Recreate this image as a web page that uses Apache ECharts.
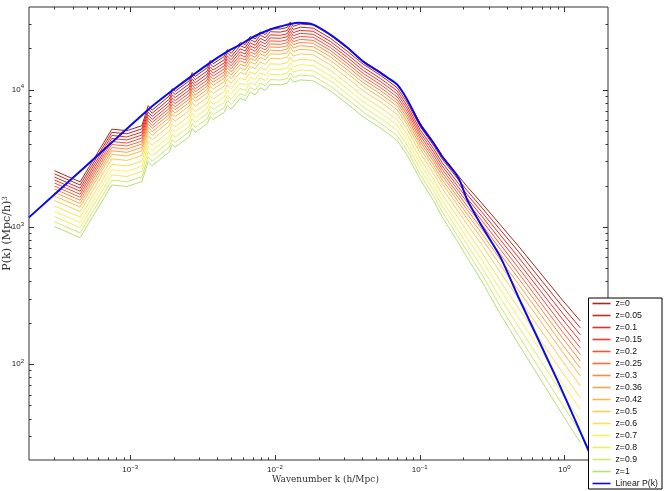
<!DOCTYPE html>
<html>
<head>
<meta charset="utf-8">
<script src="https://cdn.jsdelivr.net/npm/echarts@6/dist/echarts.min.js"></script>
<style>
html, body { margin: 0; padding: 0; background: #fff; }
#chart { width: 664px; height: 491px; }
</style>
</head>
<body>
<div id="chart"></div>
<script>
// wavenumber grid of the nonlinear spectra (h/Mpc)
var kNL = [3.00e-4, 4.51e-4, 7.47e-4, 9.49e-4, 1.205e-3, 1.331e-3, 1.419e-3, 1.860e-3, 1.951e-3, 2.046e-3,
    2.557e-3, 2.682e-3, 2.813e-3, 3.405e-3, 3.572e-3, 3.746e-3, 4.463e-3, 4.681e-3, 4.989e-3, 5.757e-3,
    6.234e-3, 6.750e-3, 7.309e-3, 7.913e-3, 8.570e-3, 9.279e-3, 0.01088, 0.01216, 0.01276, 0.01338,
    0.01496, 0.01840, 0.02411, 0.03160, 0.04076, 0.05342, 0.05971, 0.07002, 0.08210, 0.1010,
    0.1242, 0.1433, 0.1849, 0.2133, 0.2708, 0.3606, 0.4802, 0.6815, 0.9672, 1.288];

// log10 P(k), one list per redshift
var lgP_z0 = [3.409, 3.328, 3.712, 3.701, 3.737, 3.883, 3.851, 3.953, 4.007, 3.988, 4.064, 4.124, 4.096, 4.159, 4.212, 4.189, 4.241, 4.292, 4.264, 4.343, 4.328, 4.387, 4.369, 4.420, 4.401, 4.445, 4.442, 4.453, 4.493, 4.461, 4.478, 4.471, 4.398, 4.303, 4.208, 4.128, 4.091, 4.036, 3.927, 3.752, 3.620, 3.518, 3.372, 3.292, 3.168, 3.015, 2.861, 2.664, 2.467, 2.314];
var lgP_z005 = [3.386, 3.305, 3.689, 3.678, 3.714, 3.860, 3.828, 3.930, 3.984, 3.965, 4.041, 4.101, 4.073, 4.136, 4.189, 4.166, 4.218, 4.269, 4.241, 4.320, 4.305, 4.364, 4.346, 4.397, 4.378, 4.422, 4.419, 4.430, 4.470, 4.438, 4.455, 4.448, 4.375, 4.280, 4.185, 4.105, 4.068, 4.013, 3.904, 3.729, 3.596, 3.493, 3.344, 3.263, 3.136, 2.978, 2.821, 2.620, 2.420, 2.264];
var lgP_z01 = [3.363, 3.282, 3.666, 3.655, 3.691, 3.837, 3.805, 3.907, 3.961, 3.942, 4.018, 4.078, 4.050, 4.113, 4.166, 4.143, 4.195, 4.246, 4.218, 4.297, 4.282, 4.341, 4.323, 4.374, 4.355, 4.399, 4.396, 4.407, 4.447, 4.415, 4.432, 4.425, 4.352, 4.257, 4.162, 4.082, 4.045, 3.990, 3.881, 3.706, 3.572, 3.467, 3.317, 3.234, 3.104, 2.941, 2.780, 2.577, 2.373, 2.214];
var lgP_z015 = [3.341, 3.260, 3.644, 3.633, 3.669, 3.815, 3.783, 3.885, 3.939, 3.920, 3.996, 4.056, 4.028, 4.091, 4.144, 4.121, 4.173, 4.224, 4.196, 4.275, 4.260, 4.319, 4.301, 4.352, 4.333, 4.377, 4.374, 4.385, 4.425, 4.393, 4.410, 4.403, 4.330, 4.235, 4.140, 4.060, 4.023, 3.968, 3.859, 3.684, 3.549, 3.443, 3.290, 3.206, 3.073, 2.906, 2.742, 2.535, 2.328, 2.166];
var lgP_z02 = [3.319, 3.238, 3.622, 3.611, 3.647, 3.793, 3.761, 3.863, 3.917, 3.898, 3.974, 4.034, 4.006, 4.069, 4.122, 4.099, 4.151, 4.202, 4.174, 4.253, 4.238, 4.297, 4.279, 4.330, 4.311, 4.355, 4.352, 4.363, 4.403, 4.371, 4.388, 4.381, 4.308, 4.213, 4.118, 4.038, 4.001, 3.946, 3.837, 3.662, 3.525, 3.419, 3.264, 3.178, 3.042, 2.871, 2.703, 2.493, 2.282, 2.118];
var lgP_z025 = [3.297, 3.216, 3.600, 3.589, 3.625, 3.771, 3.739, 3.841, 3.895, 3.876, 3.952, 4.012, 3.984, 4.047, 4.100, 4.077, 4.129, 4.180, 4.152, 4.231, 4.216, 4.275, 4.257, 4.308, 4.289, 4.333, 4.330, 4.341, 4.381, 4.349, 4.366, 4.359, 4.286, 4.191, 4.096, 4.016, 3.979, 3.924, 3.815, 3.640, 3.502, 3.395, 3.238, 3.150, 3.011, 2.836, 2.665, 2.451, 2.237, 2.070];
var lgP_z03 = [3.275, 3.194, 3.578, 3.567, 3.603, 3.749, 3.717, 3.819, 3.873, 3.854, 3.930, 3.990, 3.962, 4.025, 4.078, 4.055, 4.107, 4.158, 4.130, 4.209, 4.194, 4.253, 4.235, 4.286, 4.267, 4.311, 4.308, 4.319, 4.359, 4.327, 4.344, 4.337, 4.264, 4.169, 4.074, 3.994, 3.957, 3.902, 3.793, 3.618, 3.479, 3.371, 3.211, 3.122, 2.980, 2.801, 2.626, 2.409, 2.192, 2.022];
var lgP_z036 = [3.251, 3.170, 3.554, 3.543, 3.579, 3.725, 3.693, 3.795, 3.849, 3.830, 3.906, 3.966, 3.938, 4.001, 4.054, 4.031, 4.083, 4.134, 4.106, 4.185, 4.170, 4.229, 4.211, 4.262, 4.243, 4.287, 4.284, 4.295, 4.335, 4.303, 4.320, 4.313, 4.240, 4.145, 4.050, 3.970, 3.933, 3.878, 3.769, 3.594, 3.454, 3.344, 3.182, 3.091, 2.947, 2.762, 2.584, 2.364, 2.143, 1.970];
var lgP_z042 = [3.225, 3.144, 3.528, 3.517, 3.553, 3.699, 3.667, 3.769, 3.823, 3.804, 3.880, 3.940, 3.912, 3.975, 4.028, 4.005, 4.057, 4.108, 4.080, 4.159, 4.144, 4.203, 4.185, 4.236, 4.217, 4.261, 4.258, 4.269, 4.309, 4.277, 4.294, 4.287, 4.214, 4.119, 4.024, 3.944, 3.907, 3.852, 3.743, 3.568, 3.427, 3.316, 3.151, 3.058, 2.910, 2.721, 2.539, 2.314, 2.090, 1.913];
var lgP_z05 = [3.192, 3.111, 3.495, 3.484, 3.520, 3.666, 3.634, 3.736, 3.790, 3.771, 3.847, 3.907, 3.879, 3.942, 3.995, 3.972, 4.024, 4.075, 4.047, 4.126, 4.111, 4.170, 4.152, 4.203, 4.184, 4.228, 4.225, 4.236, 4.276, 4.244, 4.261, 4.254, 4.181, 4.086, 3.991, 3.911, 3.874, 3.819, 3.710, 3.535, 3.392, 3.279, 3.112, 3.016, 2.864, 2.668, 2.481, 2.252, 2.022, 1.841];
var lgP_z06 = [3.152, 3.071, 3.455, 3.444, 3.480, 3.626, 3.594, 3.696, 3.750, 3.731, 3.807, 3.867, 3.839, 3.902, 3.955, 3.932, 3.984, 4.035, 4.007, 4.086, 4.071, 4.130, 4.112, 4.163, 4.144, 4.188, 4.185, 4.196, 4.236, 4.204, 4.221, 4.214, 4.141, 4.046, 3.951, 3.871, 3.834, 3.779, 3.670, 3.495, 3.350, 3.235, 3.064, 2.966, 2.808, 2.604, 2.411, 2.176, 1.940, 1.754];
var lgP_z07 = [3.113, 3.032, 3.416, 3.405, 3.441, 3.587, 3.555, 3.657, 3.711, 3.692, 3.768, 3.828, 3.800, 3.863, 3.916, 3.893, 3.945, 3.996, 3.968, 4.047, 4.032, 4.091, 4.073, 4.124, 4.105, 4.149, 4.146, 4.157, 4.197, 4.165, 4.182, 4.175, 4.102, 4.007, 3.912, 3.832, 3.795, 3.740, 3.631, 3.456, 3.309, 3.192, 3.017, 2.916, 2.754, 2.541, 2.343, 2.102, 1.860, 1.669];
var lgP_z08 = [3.075, 2.994, 3.378, 3.367, 3.403, 3.549, 3.517, 3.619, 3.673, 3.654, 3.730, 3.790, 3.762, 3.825, 3.878, 3.855, 3.907, 3.958, 3.930, 4.009, 3.994, 4.053, 4.035, 4.086, 4.067, 4.111, 4.108, 4.119, 4.159, 4.127, 4.144, 4.137, 4.064, 3.969, 3.874, 3.794, 3.757, 3.702, 3.593, 3.418, 3.269, 3.151, 2.971, 2.868, 2.700, 2.481, 2.276, 2.029, 1.782, 1.586];
var lgP_z09 = [3.037, 2.956, 3.340, 3.329, 3.365, 3.511, 3.479, 3.581, 3.635, 3.616, 3.692, 3.752, 3.724, 3.787, 3.840, 3.817, 3.869, 3.920, 3.892, 3.971, 3.956, 4.015, 3.997, 4.048, 4.029, 4.073, 4.070, 4.081, 4.121, 4.089, 4.106, 4.099, 4.026, 3.931, 3.836, 3.756, 3.719, 3.664, 3.555, 3.380, 3.229, 3.109, 2.926, 2.820, 2.647, 2.420, 2.210, 1.957, 1.704, 1.503];
var lgP_z1 = [3.002, 2.921, 3.305, 3.294, 3.330, 3.476, 3.444, 3.546, 3.600, 3.581, 3.657, 3.717, 3.689, 3.752, 3.805, 3.782, 3.834, 3.885, 3.857, 3.936, 3.921, 3.980, 3.962, 4.013, 3.994, 4.038, 4.035, 4.046, 4.086, 4.054, 4.071, 4.064, 3.991, 3.896, 3.801, 3.721, 3.684, 3.629, 3.520, 3.345, 3.193, 3.070, 2.884, 2.775, 2.598, 2.364, 2.149, 1.891, 1.633, 1.427];

var zNames = ['z=0', 'z=0.05', 'z=0.1', 'z=0.15', 'z=0.2', 'z=0.25', 'z=0.3', 'z=0.36',
    'z=0.42', 'z=0.5', 'z=0.6', 'z=0.7', 'z=0.8', 'z=0.9', 'z=1'];
var zCurves = [lgP_z0, lgP_z005, lgP_z01, lgP_z015, lgP_z02, lgP_z025, lgP_z03, lgP_z036,
    lgP_z042, lgP_z05, lgP_z06, lgP_z07, lgP_z08, lgP_z09, lgP_z1];
var zColors = ['#a52a1f', '#c8281f', '#e0302a', '#f03a30', '#f8503a', '#fb6c3c', '#fd8a40', '#fea244',
    '#ffb848', '#ffcc4c', '#ffe050', '#fff055', '#e6f060', '#cdeb6c', '#b5e077'];

// linear spectrum
var kLin = [2.0e-4, 4.51e-4, 1.331e-3, 1.951e-3, 2.682e-3, 3.572e-3, 4.681e-3, 5.757e-3, 6.750e-3, 7.913e-3,
    9.279e-3, 0.01088, 0.01449, 0.01840, 0.02411, 0.03160, 0.04076, 0.05342, 0.05971, 0.07002,
    0.08210, 0.1010, 0.1242, 0.1433, 0.1849, 0.2133, 0.2708, 0.3606, 0.4802, 0.893, 1.394, 1.770];
var lgP_lin = [3.069, 3.405, 3.854, 3.993, 4.102, 4.197, 4.277, 4.328, 4.372, 4.409,
    4.438, 4.460, 4.487, 4.474, 4.401, 4.307, 4.204, 4.124, 4.088, 4.036,
    3.927, 3.745, 3.613, 3.511, 3.358, 3.197, 3.000, 2.781, 2.489, 1.883, 1.423, 1.175];

var kMin = 2e-4, kMax = 2, pMin = 20, pMax = 4e4;

var chart = echarts.init(document.getElementById('chart'));

function toPoints(ks, lgs) {
    return ks.map(function(k, i) { return [k, Math.pow(10, lgs[i])]; });
}

function isPow10(v) {
    var e = Math.log10(v);
    return Math.abs(e - Math.round(e)) < 1e-6;
}

function powLabel(v) {
    if (!isPow10(v)) return '';
    var e = Math.round(Math.log10(v));
    return '{b|10}{s|' + String(e).replace('-', '\u2212') + '}';
}

var labelRich = {
    b: { fontFamily: 'Liberation Sans', fontSize: 8, lineHeight: 12, color: '#222' },
    s: { fontFamily: 'Liberation Sans', fontSize: 6, lineHeight: 6, verticalAlign: 'top', color: '#222' }
};

// tick positions: 1..9 x 10^n inside the range
var kTicks = [], pTicks = [];
for (var e = -4; e <= 4; e++) {
    for (var m = 1; m <= 9; m++) {
        var v = m * Math.pow(10, e);
        if (v > kMin * 1.001 && v < kMax * 0.999) kTicks.push(v);
        if (v > pMin * 1.001 && v < pMax * 0.999) pTicks.push(v);
    }
}

function drawTicks(params, api) {
    var bl = api.coord([kMin, pMin]);
    var tr = api.coord([kMax, pMax]);
    var items = [];
    function seg(x1, y1, x2, y2) {
        items.push({ type: 'line', shape: { x1: x1, y1: y1, x2: x2, y2: y2 },
            style: { stroke: '#333', lineWidth: 1 } });
    }
    kTicks.forEach(function(k) {
        var x = Math.round(api.coord([k, pMin])[0]) + 0.5;
        var len = isPow10(k) ? 5 : 2.5;
        seg(x, bl[1], x, bl[1] - len);
        seg(x, tr[1], x, tr[1] + len);
    });
    pTicks.forEach(function(p) {
        var y = Math.round(api.coord([kMin, p])[1]) + 0.5;
        var len = isPow10(p) ? 5 : 2.5;
        seg(bl[0], y, bl[0] + len, y);
        seg(tr[0], y, tr[0] - len, y);
    });
    return { type: 'group', children: items };
}

var series = zNames.map(function(name, i) {
    return {
        name: name,
        type: 'line',
        data: toPoints(kNL, zCurves[i]),
        symbol: 'none',
        showSymbol: false,
        lineStyle: { color: zColors[i], width: 1 },
        itemStyle: { color: zColors[i] },
        z: 2
    };
});
series.push({
    name: 'Linear P(k)',
    type: 'line',
    data: toPoints(kLin, lgP_lin),
    symbol: 'none',
    showSymbol: false,
    smooth: 0.3,
    lineStyle: { color: '#0a0af0', width: 2 },
    itemStyle: { color: '#0a0af0' },
    z: 3
});
series.push({
    type: 'custom',
    renderItem: drawTicks,
    data: [[kMin, pMin]],
    silent: true,
    z: 3
});

var option = {
    animation: false,
    backgroundColor: '#fff',
    grid: {
        left: 29, right: 56, top: 7, bottom: 31,
        show: true, borderColor: '#333', borderWidth: 1,
        containLabel: false, outerBoundsMode: 'none'
    },
    legend: {
        orient: 'vertical',
        right: 2,
        top: 298,
        z: 20,
        backgroundColor: '#fff',
        borderColor: '#000',
        borderWidth: 1,
        borderRadius: 0,
        padding: [1, 4, 1, 4],
        itemGap: 3,
        itemWidth: 18,
        itemHeight: 1.6,
        icon: 'rect',
        textStyle: { fontFamily: 'Liberation Sans', fontSize: 8.7, lineHeight: 9, color: '#111' },
        data: zNames.concat(['Linear P(k)'])
    },
    xAxis: {
        type: 'log',
        logBase: 10,
        min: kMin,
        max: kMax,
        name: 'Wavenumber k (h/Mpc)',
        nameLocation: 'middle',
        nameGap: 15,
        nameMoveOverlap: false,
        nameTextStyle: { fontFamily: 'DejaVu Serif', fontSize: 9, color: '#333', padding: [0, 0, 0, 14] },
        axisLine: { show: false },
        axisTick: { show: false },
        splitLine: { show: false },
        axisLabel: { formatter: powLabel, rich: labelRich, margin: 4 }
    },
    yAxis: {
        type: 'log',
        logBase: 10,
        min: pMin,
        max: pMax,
        name: 'P(k) (Mpc/h){s|3}',
        nameLocation: 'middle',
        nameGap: 16,
        nameMoveOverlap: false,
        nameTextStyle: {
            fontFamily: 'DejaVu Serif', fontSize: 11, color: '#333',
            rich: { s: { fontFamily: 'DejaVu Serif', fontSize: 7, lineHeight: 7, verticalAlign: 'top', color: '#333' } }
        },
        axisLine: { show: false },
        axisTick: { show: false },
        splitLine: { show: false },
        axisLabel: { formatter: powLabel, rich: labelRich, margin: 5, hideOverlap: false }
    },
    series: series
};

chart.setOption(option);
</script>
</body>
</html>
